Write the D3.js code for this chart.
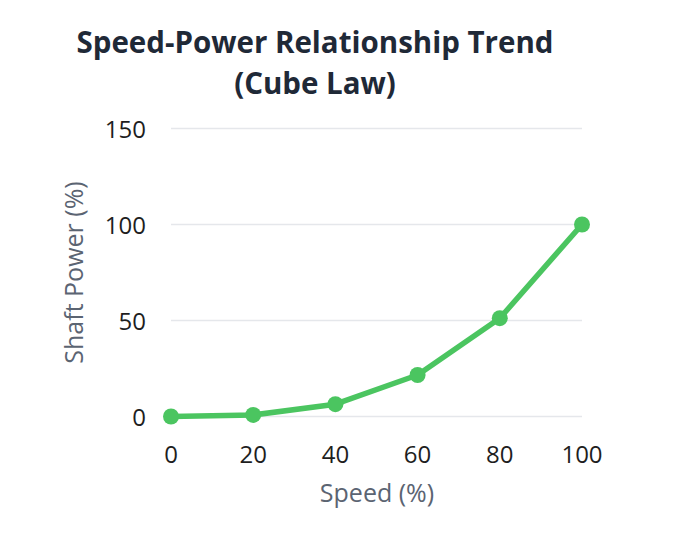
<!DOCTYPE html>
<html>
<head>
<meta charset="utf-8">
<script src="https://cdn.jsdelivr.net/npm/d3@7"></script>
<style>
body { margin: 0; background: #fff; }
svg { font-family: "Open Sans", "Noto Sans", sans-serif; }
</style>
</head>
<body>
<svg id="chart" width="681" height="534"></svg>
<script>
// data
var speed = [0, 20, 40, 60, 80, 100];
var power = [0, 0.8, 6.4, 21.6, 51.2, 100];
var yTicks = [0, 50, 100, 150];
var titleLines = ["Speed-Power Relationship Trend", "(Cube Law)"];

var svg = d3.select("#chart");

var x = d3.scaleLinear().domain([0, 100]).range([171, 582]);
var y = d3.scaleLinear().domain([0, 150]).range([416.5, 128.5]);

// gridlines
svg.append("g")
  .selectAll("line")
  .data(yTicks)
  .enter().append("line")
    .attr("x1", 171)
    .attr("x2", 582)
    .attr("y1", function(d) { return y(d); })
    .attr("y2", function(d) { return y(d); })
    .attr("stroke", "#e5e7eb")
    .attr("stroke-width", 1.5);

// y tick labels
svg.append("g")
  .selectAll("text")
  .data(yTicks)
  .enter().append("text")
    .attr("x", 146)
    .attr("y", function(d) { return y(d) + 9; })
    .attr("text-anchor", "end")
    .attr("font-size", "24px")
    .attr("fill", "#1e1e1e")
    .text(function(d) { return d; });

// x tick labels
svg.append("g")
  .selectAll("text")
  .data(speed)
  .enter().append("text")
    .attr("x", function(d) { return x(d); })
    .attr("y", 463)
    .attr("text-anchor", "middle")
    .attr("font-size", "24px")
    .attr("fill", "#1e1e1e")
    .text(function(d) { return d; });

// axis titles
svg.append("text")
  .attr("x", 377)
  .attr("y", 502)
  .attr("text-anchor", "middle")
  .attr("font-size", "25px")
  .attr("fill", "#5b6472")
  .text("Speed (%)");

svg.append("text")
  .attr("transform", "translate(83," + y(75) + ") rotate(-90)")
  .attr("text-anchor", "middle")
  .attr("font-size", "25px")
  .attr("fill", "#5b6472")
  .text("Shaft Power (%)");

// line
var pts = speed.map(function(s, i) { return [s, power[i]]; });
var line = d3.line()
  .x(function(d) { return x(d[0]); })
  .y(function(d) { return y(d[1]); });

svg.append("path")
  .datum(pts)
  .attr("d", line)
  .attr("fill", "none")
  .attr("stroke", "#4bc560")
  .attr("stroke-width", 5.5)
  .attr("stroke-linejoin", "round");

svg.append("g")
  .selectAll("circle")
  .data(pts)
  .enter().append("circle")
    .attr("cx", function(d) { return x(d[0]); })
    .attr("cy", function(d) { return y(d[1]); })
    .attr("r", 8)
    .attr("fill", "#4bc560");

// title
svg.append("g")
  .selectAll("text")
  .data(titleLines)
  .enter().append("text")
    .attr("x", 315)
    .attr("y", function(d, i) { return 53 + i * 41; })
    .attr("text-anchor", "middle")
    .attr("font-size", "29.5px")
    .attr("font-weight", "bold")
    .attr("fill", "#1f2937")
    .text(function(d) { return d; });
</script>
</body>
</html>
